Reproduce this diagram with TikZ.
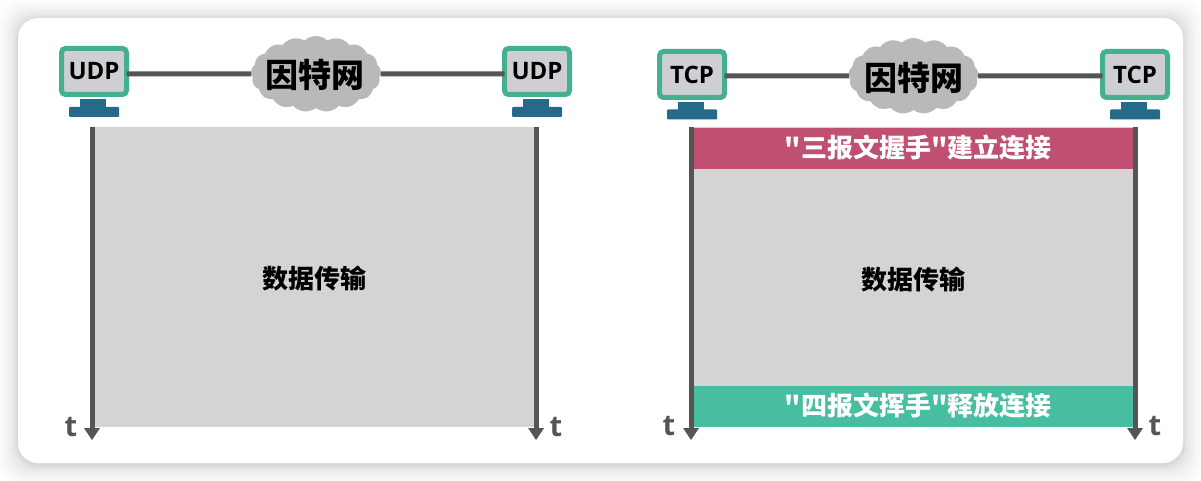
\documentclass[tikz,border=0pt]{standalone}
\usepackage{xcolor}
\usepackage{fontspec}
\usepackage{tikz}
\usetikzlibrary{shapes.symbols}
\setmainfont{Open Sans}
\newfontfamily\cjk{Noto Sans CJK SC}
\definecolor{screengreen}{HTML}{45B08F}
\definecolor{screengray}{HTML}{CFCFD3}
\definecolor{standblue}{HTML}{266A8A}
\definecolor{linegray}{HTML}{555555}
\definecolor{cloudgray}{HTML}{B9B9B9}
\definecolor{blockgray}{HTML}{D4D4D4}
\definecolor{shakered}{HTML}{C05072}
\definecolor{wavegreen}{HTML}{48BEA0}

\begin{document}
\begin{tikzpicture}[x=1pt,y=-1pt,
    every node/.style={inner sep=0pt,outer sep=0pt,align=center},
    screen/.style={draw=screengreen,fill=screengray,line width=5pt,rounded corners=4pt,minimum width=65pt,minimum height=46pt,font=\bfseries\fontsize{24}{24}\selectfont},
    stand/.style={fill=standblue,minimum width=26pt,minimum height=8pt},
    base/.style={fill=standblue,rounded corners=1pt,minimum width=50pt,minimum height=10pt},
    net/.style={shape=cloud,cloud puffs=17,cloud puff arc=85,aspect=1.75,fill=cloudgray,minimum width=130pt,minimum height=76pt},
    nettext/.style={font=\cjk\bfseries\fontsize{33}{33}\selectfont},
    link/.style={draw=linegray,line width=5pt},
    timeline/.style={draw=linegray,line width=5pt},
    tlabel/.style={text=linegray,font=\bfseries\fontsize{29}{29}\selectfont},
    block/.style={fill=#1,minimum width=444pt},
    blocktext/.style={font=\cjk\bfseries\fontsize{26}{26}\selectfont}]
  \useasboundingbox (0,0) rectangle (1201,481);
  % card with soft shadow
  \foreach \s in {1,1.5,2,3,4,5,6.5,8,10,12,14,17,20}{
    \fill[black,opacity=0.011,rounded corners=22pt] (18-\s,18-\s+1) rectangle (1183+\s,463+\s+2);
  }
  \fill[white,rounded corners=20pt] (18,18) rectangle (1183,463);

  % left side
  \node[block=blockgray,minimum height=300pt] (dataa) at (314,277) {};
  \node[blocktext] (dataatext) at (314,279) {数据传输};
  \node[screen] (udpa) at (94,71.5) {UDP};
  \node[stand] (standa) at (93,103.5) {};
  \node[base] (basea) at (94,112) {};
  \node[screen] (udpb) at (537,71.5) {UDP};
  \node[stand] (standb) at (536,103.5) {};
  \node[base] (baseb) at (537,112) {};
  \node[net] (neta) at (316,74) {};
  \node[nettext] (netatext) at (315,75) {因特网};
  \draw[link] (udpa.east |- neta) -- (neta);
  \draw[link] (neta) -- (udpb.west |- neta);

  \coordinate (ta) at (92,127);
  \coordinate (tb) at (92,429);
  \coordinate (tc) at (536,127);
  \coordinate (td) at (536,429);
  \draw[timeline] (ta) -- (tb);
  \draw[timeline] (tc) -- (td);
  \fill[linegray] (84,428) -- (100,428) -- (92,440) -- cycle;
  \fill[linegray] (528,428) -- (544,428) -- (536,440) -- cycle;
  \node[tlabel] (tla) at (71,427) {t};
  \node[tlabel] (tlb) at (556,427) {t};

  % right side
  \node[block=blockgray,minimum height=300pt] (datab) at (913,277) {};
  \node[block=shakered,minimum height=41pt] (shake) at (913,148.5) {};
  \node[block=wavegreen,minimum height=41pt] (wave) at (913,406.5) {};
  \node[blocktext,text=white] (shaketext) at (918,148) {"三报文握手"建立连接};
  \node[blocktext,text=white] (wavetext) at (918,406) {"四报文挥手"释放连接};
  \node[blocktext] (databtext) at (913,280) {数据传输};
  \node[screen] (tcpa) at (692,74.5) {TCP};
  \node[stand] (standc) at (691,106) {};
  \node[base] (basec) at (692,114.5) {};
  \node[screen] (tcpb) at (1135,74.5) {TCP};
  \node[stand] (standd) at (1134,106) {};
  \node[base] (based) at (1135,114.5) {};
  \node[net] (netb) at (913.5,76) {};
  \node[nettext] (netbtext) at (914,78) {因特网};
  \draw[link] (tcpa.east |- netb) -- (netb);
  \draw[link] (netb) -- (tcpb.west |- netb);

  \coordinate (te) at (691,127);
  \coordinate (tf) at (691,429);
  \coordinate (tg) at (1135,127);
  \coordinate (th) at (1135,429);
  \draw[timeline] (te) -- (tf);
  \draw[timeline] (tg) -- (th);
  \fill[linegray] (683,428) -- (699,428) -- (691,440) -- cycle;
  \fill[linegray] (1127,428) -- (1143,428) -- (1135,440) -- cycle;
  \node[tlabel] (tlc) at (669,426) {t};
  \node[tlabel] (tld) at (1155,426) {t};
\end{tikzpicture}
\end{document}
